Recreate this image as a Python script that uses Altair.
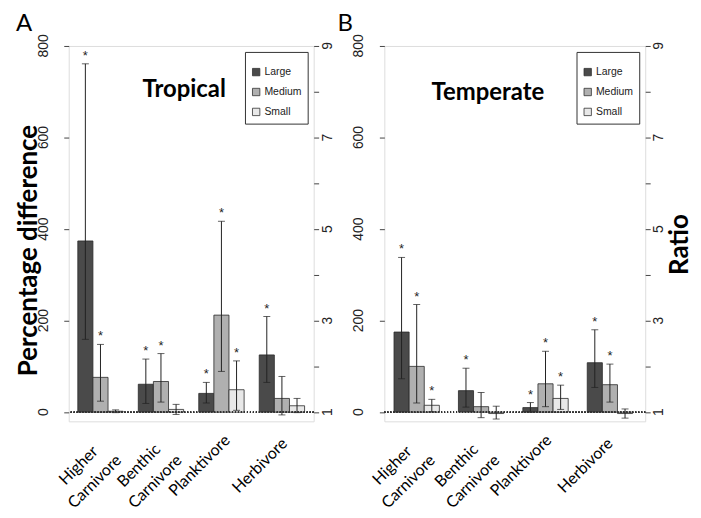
import altair as alt
import pandas as pd

groups = ["Higher Carnivore", "Benthic Carnivore", "Planktivore", "Herbivore"]
sizes = ["Large", "Medium", "Small"]

# Tropical (panel A): mean, lower and upper error limits (percentage difference)
trop_mean = [374, 76, 2, 61, 67, 6, 41, 212, 49, 125, 30, 14]
trop_lo = [159, 24, -1, 19, 22, -5, 20, 89, 4, 65, -6, -1]
trop_hi = [761, 148, 5, 116, 128, 17, 65, 417, 112, 209, 78, 30]
trop_sig = [1, 1, 0, 1, 1, 0, 1, 1, 1, 1, 0, 0]

# Temperate (panel B)
temp_mean = [175, 100, 15, 47, 12, -3, 10, 62, 30, 108, 60, -3]
temp_lo = [73, 20, 1, 11, -12, -15, 0, 12, 6, 54, 22, -13]
temp_hi = [338, 235, 28, 96, 43, 13, 21, 133, 59, 180, 105, 7]
temp_sig = [1, 1, 1, 1, 0, 0, 1, 1, 1, 1, 1, 0]

# axis tick values and labels
pct_ticks = [0, 200, 400, 600, 800]
pct_labels = ["0", "200", "400", "600", "800"]
ratio_labels = ["1", "3", "5", "7", "9"]
ratio_ticks = [0, 100, 200, 300, 400, 500, 600, 700, 800]

bar_colors = ["#4a4a4a", "#b0b0b0", "#e8e8e8"]


def make_df(mean, lo, hi, sig):
    rows = []
    i = 0
    for g in groups:
        for s in sizes:
            rows.append({"group": g, "size": s, "mean": mean[i], "lo": lo[i],
                         "hi": hi[i], "star": "*" if sig[i] else ""})
            i += 1
    return pd.DataFrame(rows)


tick_df = pd.DataFrame({"v": pct_ticks, "pct": pct_labels, "ratio": ratio_labels})


def panel(df, letter, letter_dx, heading, head_x, head_y, w, h,
          left_title, right_title, label_offset, label_pad):
    yscale = alt.Scale(domain=[-20, 800], nice=False, zero=False)
    xenc = alt.X("group:N", sort=groups, title=None,
                 scale=alt.Scale(paddingInner=0.25, paddingOuter=0.15),
                 axis=alt.Axis(labelAngle=-45, labelAlign="center", labelBaseline="middle",
                               labelExpr="split(datum.label, ' ')", labelFont="Lato",
                               labelFontSize=16, labelColor="#000", labelLineHeight=23,
                               labelPadding=label_pad, labelOffset=label_offset,
                               labelOverlap=False, ticks=False, tickSize=0, domain=False))
    xoff = alt.XOffset("size:N", sort=sizes,
                       scale=alt.Scale(paddingInner=0, paddingOuter=0))
    left_axis = alt.Axis(values=pct_ticks, labels=False, tickSize=5, tickColor="#444",
                         domain=False, grid=False, title=left_title,
                         titleFont="Lato", titleFontSize=26, titleFontWeight="bold",
                         titleColor="#000", titleAngle=270, titleAlign="center",
                         titleBaseline="middle", titleX=-40, titleY=205)
    base = alt.Chart(df)
    bars = base.mark_bar(stroke="#2a2a2a", strokeWidth=0.8).encode(
        x=xenc, xOffset=xoff,
        y=alt.Y("mean:Q", scale=yscale, stack=None, axis=left_axis),
        color=alt.Color("size:N", sort=sizes,
                        scale=alt.Scale(domain=sizes, range=bar_colors),
                        legend=alt.Legend(title=" ", titleFontSize=7, titlePadding=2,
                                          orient="top-right", offset=6,
                                          fillColor="white", strokeColor="#333",
                                          padding=6, symbolType="square", symbolSize=55,
                                          symbolStrokeColor="#333", symbolStrokeWidth=0.8,
                                          labelFont="Liberation Sans", labelFontSize=10.5,
                                          labelColor="#222", rowPadding=8, labelOffset=3)),
    )
    err = base.mark_rule(color="#222", strokeWidth=1).encode(
        x=xenc, xOffset=xoff,
        y=alt.Y("lo:Q", scale=yscale, axis=None), y2="hi:Q")
    cap_hi = base.mark_tick(color="#222", thickness=1, size=7, orient="horizontal").encode(
        x=xenc, xOffset=xoff, y=alt.Y("hi:Q", scale=yscale, axis=None))
    cap_lo = base.mark_tick(color="#222", thickness=1, size=7, orient="horizontal").encode(
        x=xenc, xOffset=xoff, y=alt.Y("lo:Q", scale=yscale, axis=None))
    stars = base.mark_text(font="Liberation Sans", fontSize=13, color="#222",
                           baseline="alphabetic", dy=-4).encode(
        x=xenc, xOffset=xoff, y=alt.Y("hi:Q", scale=yscale, axis=None), text="star:N")
    zero = base.mark_rule(color="#333", strokeDash=[1, 2], strokeWidth=1).encode(
        y=alt.YDatum(0, scale=yscale, axis=None))
    right_axis = alt.Axis(orient="right", values=ratio_ticks, labels=False,
                          tickSize=5, tickColor="#444", domain=False, grid=False,
                          title=right_title, titleFont="Lato", titleFontSize=26,
                          titleFontWeight="bold", titleColor="#000", titleAngle=270,
                          titleAlign="center", titleBaseline="middle", titleX=34, titleY=199)
    right = base.mark_rule(opacity=0).encode(
        y=alt.Y("mean:Q", scale=yscale, axis=right_axis))
    tk = alt.Chart(tick_df)
    left_lab = tk.mark_text(font="Liberation Sans", fontSize=14, color="#222", angle=270,
                            align="center", baseline="middle").encode(
        x=alt.value(-25), y=alt.Y("v:Q", scale=yscale, axis=None), text="pct:N")
    right_lab = tk.mark_text(font="Liberation Sans", fontSize=14, color="#222", angle=270,
                             align="center", baseline="middle").encode(
        x=alt.value(w + 14), y=alt.Y("v:Q", scale=yscale, axis=None), text="ratio:N")
    head = alt.Chart(pd.DataFrame({"t": [heading]})).mark_text(
        font="Lato", fontSize=24, fontWeight="bold", color="#000").encode(
        x=alt.value(head_x), y=alt.value(head_y), text="t:N")
    return alt.layer(bars, err, cap_hi, cap_lo, stars, zero, right, left_lab, right_lab,
                     head).resolve_scale(y="independent").properties(
        width=w, height=h,
        title=alt.TitleParams(letter, anchor="start", frame="bounds", font="Lato",
                              fontSize=24, fontWeight="normal", color="#000",
                              offset=-2, dx=letter_dx))


pa = panel(make_df(trop_mean, trop_lo, trop_hi, trop_sig), "A", 0, "Tropical", 116, 44,
           246, 377, "Percentage difference", None, -22, 44)
pb = panel(make_df(temp_mean, temp_lo, temp_hi, temp_sig), "B", -15, "Temperate", 104, 47,
           262, 377, None, "Ratio", -26, 44)

chart = alt.hconcat(pa, pb, spacing=1).resolve_scale(color="independent").properties(
    padding={"left": 7, "top": 2, "right": 0, "bottom": 10}
).configure_view(stroke="#666", strokeWidth=1).configure(background="white")

chart.save("out.html", embed_options={"renderer": "svg", "actions": False})
